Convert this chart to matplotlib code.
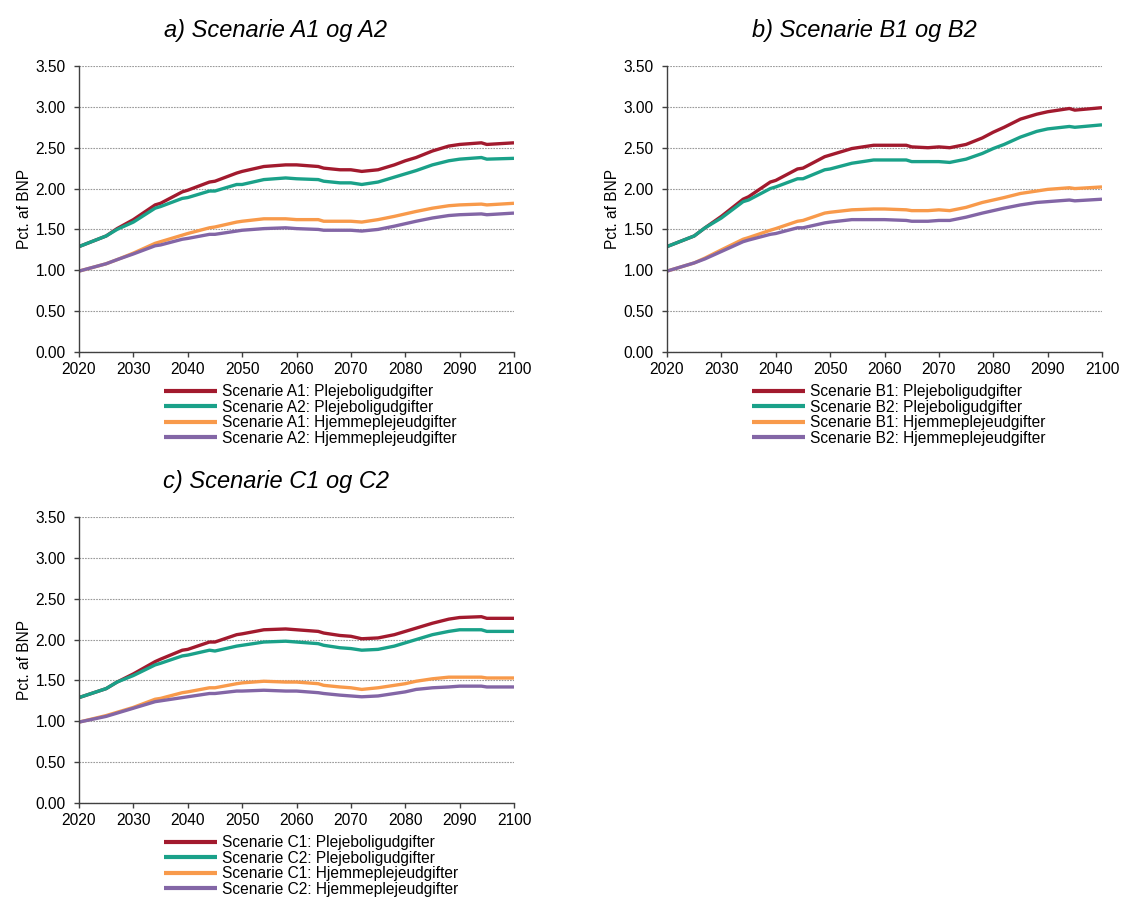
import matplotlib
matplotlib.use("Agg")
import matplotlib.pyplot as plt
import numpy as np

plt.rcParams['font.family'] = ['Liberation Sans', 'DejaVu Sans']

W, H = 1121, 897
DPI = 100

years = [2020, 2025, 2027, 2030, 2034, 2035, 2039, 2040, 2044, 2045, 2049, 2050,
         2054, 2058, 2060, 2064, 2065, 2068, 2070, 2072, 2075, 2078, 2080, 2082,
         2085, 2088, 2090, 2094, 2095, 2100]

# Scenario A
a1_pleje = [1.29, 1.42, 1.51, 1.62, 1.80, 1.82, 1.96, 1.98, 2.08, 2.09, 2.19, 2.21,
            2.27, 2.29, 2.29, 2.27, 2.25, 2.23, 2.23, 2.21, 2.23, 2.29, 2.34, 2.38,
            2.46, 2.52, 2.54, 2.56, 2.54, 2.56]
a2_pleje = [1.29, 1.42, 1.50, 1.59, 1.76, 1.78, 1.88, 1.89, 1.97, 1.97, 2.05, 2.05,
            2.11, 2.13, 2.12, 2.11, 2.09, 2.07, 2.07, 2.05, 2.08, 2.14, 2.18, 2.22,
            2.29, 2.34, 2.36, 2.38, 2.36, 2.37]
a1_hjem = [0.99, 1.08, 1.13, 1.21, 1.33, 1.35, 1.43, 1.45, 1.52, 1.53, 1.59, 1.60,
           1.63, 1.63, 1.62, 1.62, 1.60, 1.60, 1.60, 1.59, 1.62, 1.66, 1.69, 1.72,
           1.76, 1.79, 1.80, 1.81, 1.80, 1.82]
a2_hjem = [0.99, 1.08, 1.13, 1.20, 1.30, 1.31, 1.38, 1.39, 1.44, 1.44, 1.48, 1.49,
           1.51, 1.52, 1.51, 1.50, 1.49, 1.49, 1.49, 1.48, 1.50, 1.54, 1.57, 1.60,
           1.64, 1.67, 1.68, 1.69, 1.68, 1.70]

# Scenario B
b1_pleje = [1.29, 1.42, 1.52, 1.66, 1.87, 1.90, 2.08, 2.10, 2.24, 2.25, 2.39, 2.41,
            2.49, 2.53, 2.53, 2.53, 2.51, 2.50, 2.51, 2.50, 2.54, 2.62, 2.69, 2.75,
            2.85, 2.91, 2.94, 2.98, 2.96, 2.99]
b2_pleje = [1.29, 1.42, 1.52, 1.64, 1.84, 1.86, 2.00, 2.02, 2.12, 2.12, 2.23, 2.24,
            2.31, 2.35, 2.35, 2.35, 2.33, 2.33, 2.33, 2.32, 2.36, 2.43, 2.49, 2.54,
            2.63, 2.70, 2.73, 2.76, 2.75, 2.78]
b1_hjem = [0.99, 1.09, 1.15, 1.25, 1.38, 1.40, 1.49, 1.51, 1.60, 1.61, 1.70, 1.71,
           1.74, 1.75, 1.75, 1.74, 1.73, 1.73, 1.74, 1.73, 1.77, 1.83, 1.86, 1.89,
           1.94, 1.97, 1.99, 2.01, 2.00, 2.02]
b2_hjem = [0.99, 1.09, 1.14, 1.23, 1.35, 1.37, 1.44, 1.45, 1.52, 1.52, 1.58, 1.59,
           1.62, 1.62, 1.62, 1.61, 1.60, 1.60, 1.61, 1.61, 1.65, 1.70, 1.73, 1.76,
           1.80, 1.83, 1.84, 1.86, 1.85, 1.87]

# Scenario C
c1_pleje = [1.29, 1.40, 1.48, 1.58, 1.73, 1.76, 1.87, 1.88, 1.97, 1.97, 2.06, 2.07,
            2.12, 2.13, 2.12, 2.10, 2.08, 2.05, 2.04, 2.01, 2.02, 2.06, 2.10, 2.14,
            2.20, 2.25, 2.27, 2.28, 2.26, 2.26]
c2_pleje = [1.29, 1.40, 1.48, 1.56, 1.69, 1.71, 1.80, 1.81, 1.87, 1.86, 1.92, 1.93,
            1.97, 1.98, 1.97, 1.95, 1.93, 1.90, 1.89, 1.87, 1.88, 1.92, 1.96, 2.00,
            2.06, 2.10, 2.12, 2.12, 2.10, 2.10]
c1_hjem = [0.99, 1.07, 1.11, 1.17, 1.27, 1.28, 1.35, 1.36, 1.41, 1.41, 1.46, 1.47,
           1.49, 1.48, 1.48, 1.46, 1.44, 1.42, 1.41, 1.39, 1.41, 1.44, 1.46, 1.49,
           1.52, 1.54, 1.54, 1.54, 1.53, 1.53]
c2_hjem = [0.99, 1.06, 1.10, 1.16, 1.24, 1.25, 1.29, 1.30, 1.34, 1.34, 1.37, 1.37,
           1.38, 1.37, 1.37, 1.35, 1.34, 1.32, 1.31, 1.30, 1.31, 1.34, 1.36, 1.39,
           1.41, 1.42, 1.43, 1.43, 1.42, 1.42]

panels = [
    ("a) Scenarie A1 og A2", "A", [a1_pleje, a2_pleje, a1_hjem, a2_hjem]),
    ("b) Scenarie B1 og B2", "B", [b1_pleje, b2_pleje, b1_hjem, b2_hjem]),
    ("c) Scenarie C1 og C2", "C", [c1_pleje, c2_pleje, c1_hjem, c2_hjem]),
]

colors = ["#A21A2E", "#1AA189", "#F89A4B", "#8366A6"]
yticks = [0.0, 0.5, 1.0, 1.5, 2.0, 2.5, 3.0, 3.5]
xticks = list(range(2020, 2101, 10))

# axes boxes in pixels: left, right, top, bottom
boxes = [(79, 514, 66, 352), (667, 1102, 66, 352), (79, 514, 517, 803)]

FS = 11.2
fig = plt.figure(figsize=(W / DPI, H / DPI), dpi=DPI)

def fx(px):
    return px / W

def fy(py):
    return 1 - py / H

for (title, s, series), (l, r, t, b) in zip(panels, boxes):
    ax = fig.add_axes([fx(l), fy(b), fx(r) - fx(l), (b - t) / H])
    labels = [f"Scenarie {s}1: Plejeboligudgifter",
              f"Scenarie {s}2: Plejeboligudgifter",
              f"Scenarie {s}1: Hjemmeplejeudgifter",
              f"Scenarie {s}2: Hjemmeplejeudgifter"]
    for vals, c, lab in zip(series, colors, labels):
        ax.plot(years, vals, color=c, lw=2.4, label=lab, solid_capstyle='butt')
    ax.set_xlim(2020, 2100)
    ax.set_ylim(0, 3.5)
    ax.set_xticks(xticks)
    ax.set_yticks(yticks)
    ax.set_yticklabels([f"{v:.2f}" for v in yticks])
    ax.grid(axis='y', color='#9a9a9a', lw=0.8, ls=(0, (1.5, 1.0)))
    ax.set_axisbelow(True)
    for sp in ['top', 'right']:
        ax.spines[sp].set_visible(False)
    for sp in ['left', 'bottom']:
        ax.spines[sp].set_color('#404040')
        ax.spines[sp].set_linewidth(1.0)
    ax.tick_params(axis='both', direction='out', length=3.5, width=1.0,
                   color='#404040', labelsize=FS, labelcolor='black')
    ax.tick_params(axis='y', pad=6)
    ax.tick_params(axis='x', pad=4)
    ax.set_ylabel("Pct. af BNP", fontsize=FS, labelpad=3)

    # title and legend placed relative to the axes box
    fig.text(fx(l + 197), fy(t - 36), title, ha='center', va='center',
             fontsize=17, style='italic')
    leg = ax.legend(loc='upper left', bbox_to_anchor=(fx(l + 85), fy(b + 32)),
                    bbox_transform=fig.transFigure, frameon=False, fontsize=FS,
                    borderpad=0, borderaxespad=0, handlelength=3.4,
                    handletextpad=0.35, labelspacing=0.04)
    for h in leg.get_lines():
        h.set_linewidth(3.0)

fig.savefig("out.png", dpi=DPI)
